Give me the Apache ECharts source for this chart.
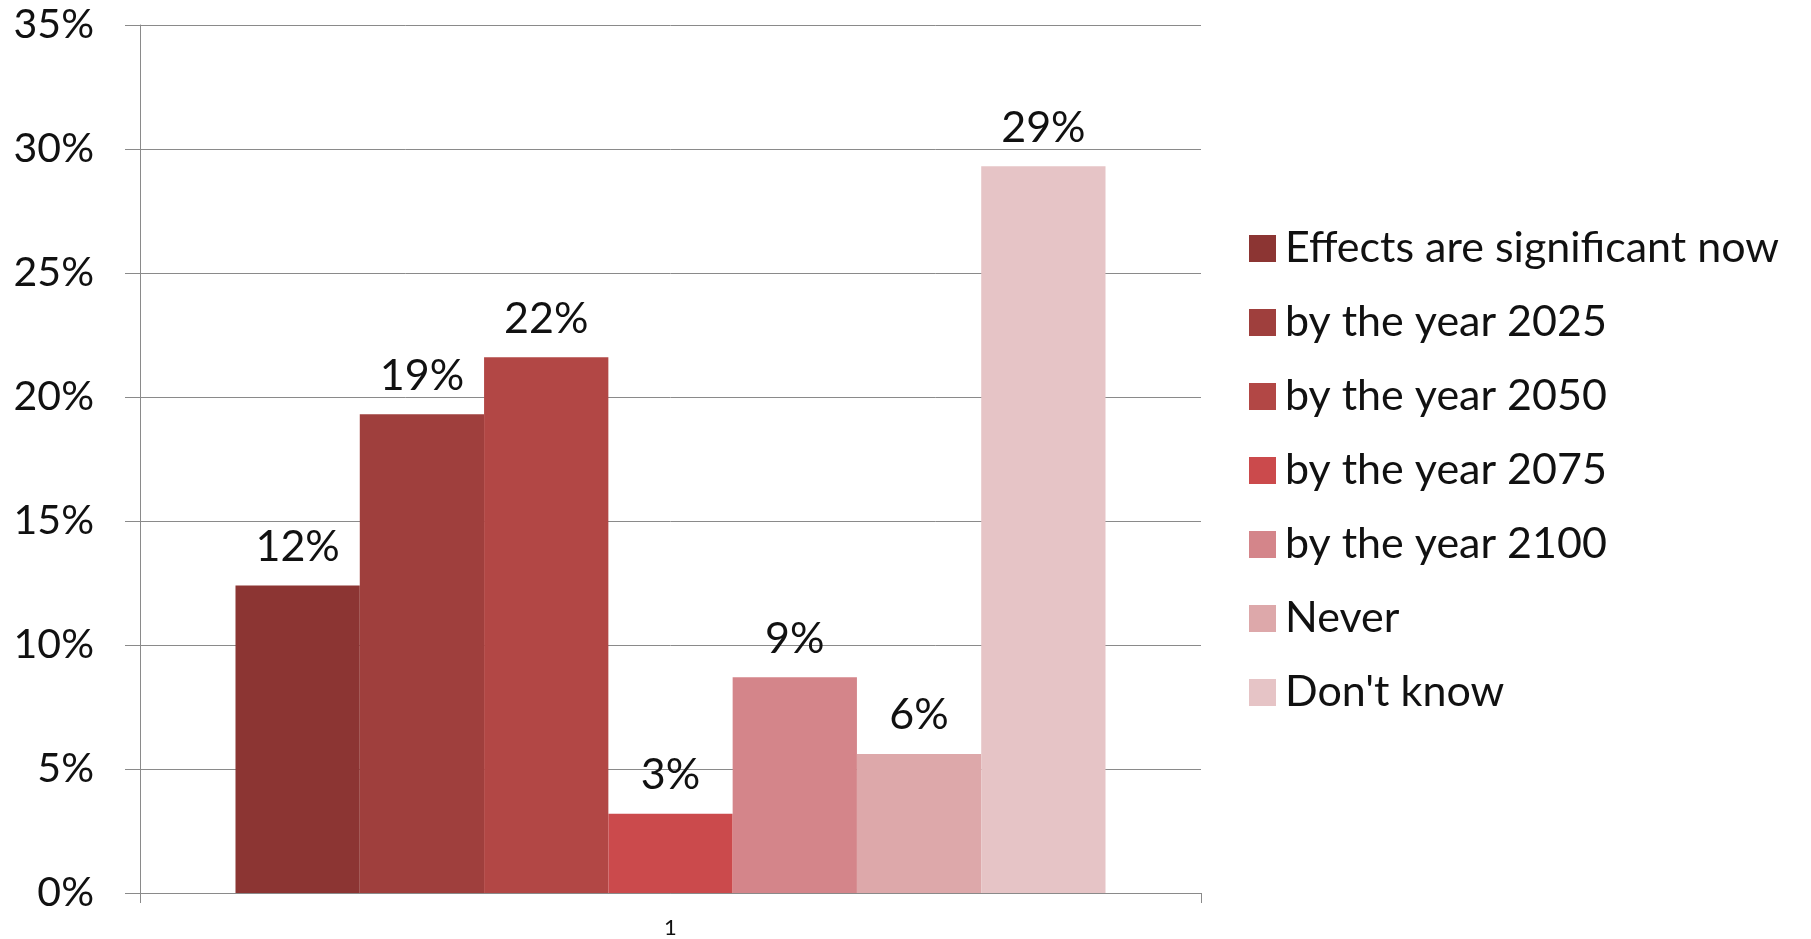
<!DOCTYPE html>
<html>
<head>
<meta charset="utf-8">
<script src="https://cdn.jsdelivr.net/npm/echarts@6/dist/echarts.min.js"></script>
<style>
html,body{margin:0;padding:0;background:#fff;}
#chart{width:1811px;height:939px;}
</style>
</head>
<body>
<div id="chart"></div>
<script>
const categories = ['1'];
const seriesNames = ['Effects are significant now','by the year 2025','by the year 2050','by the year 2075','by the year 2100','Never',"Don't know"];
const seriesValues = [12.4, 19.3, 21.6, 3.2, 8.7, 5.6, 29.3];
const seriesColors = ['#8C3533','#9F3F3D','#B24745','#CB4A4C','#D4858A','#DDA8AA','#E6C4C6'];
const yTicks = {min: 0, max: 35, interval: 5};

const font = 'Lato';
const chart = echarts.init(document.getElementById('chart'));
const series = seriesNames.map((name, i) => ({
  name: name,
  type: 'bar',
  data: [seriesValues[i]],
  barGap: '0%',
  barCategoryGap: '18%',
  itemStyle: {color: seriesColors[i]},
  label: {
    show: true,
    position: 'top',
    distance: 17,
    formatter: p => Math.round(p.value) + '%',
    fontFamily: font,
    fontSize: 43,
    color: '#111'
  }
}));
chart.setOption({
  animation: false,
  backgroundColor: '#fff',
  grid: {left: 140, right: 610, top: 25, bottom: 46},
  legend: {
    orient: 'vertical',
    left: 1244,
    top: 222,
    itemWidth: 27,
    itemHeight: 27,
    itemGap: 31,
    icon: 'rect',
    data: seriesNames,
    textStyle: {fontFamily: font, fontSize: 43, color: '#111', lineHeight: 37, padding: [0,0,0,4]}
  },
  xAxis: {
    type: 'category',
    data: categories,
    axisLine: {lineStyle: {color: '#8a8a8a', width: 1}},
    axisTick: {show: true, length: 10, lineStyle: {color: '#8a8a8a'}},
    axisLabel: {fontFamily: font, fontSize: 22, color: '#111', margin: 24}
  },
  yAxis: {
    type: 'value',
    min: yTicks.min,
    max: yTicks.max,
    interval: yTicks.interval,
    axisLine: {show: true, lineStyle: {color: '#8a8a8a', width: 1}},
    axisTick: {show: true, length: 15, lineStyle: {color: '#8a8a8a'}},
    splitLine: {lineStyle: {color: '#8a8a8a', width: 1}},
    axisLabel: {fontFamily: font, fontSize: 41, color: '#111', margin: 46, formatter: '{value}%'}
  },
  series: series
});
</script>
</body>
</html>
